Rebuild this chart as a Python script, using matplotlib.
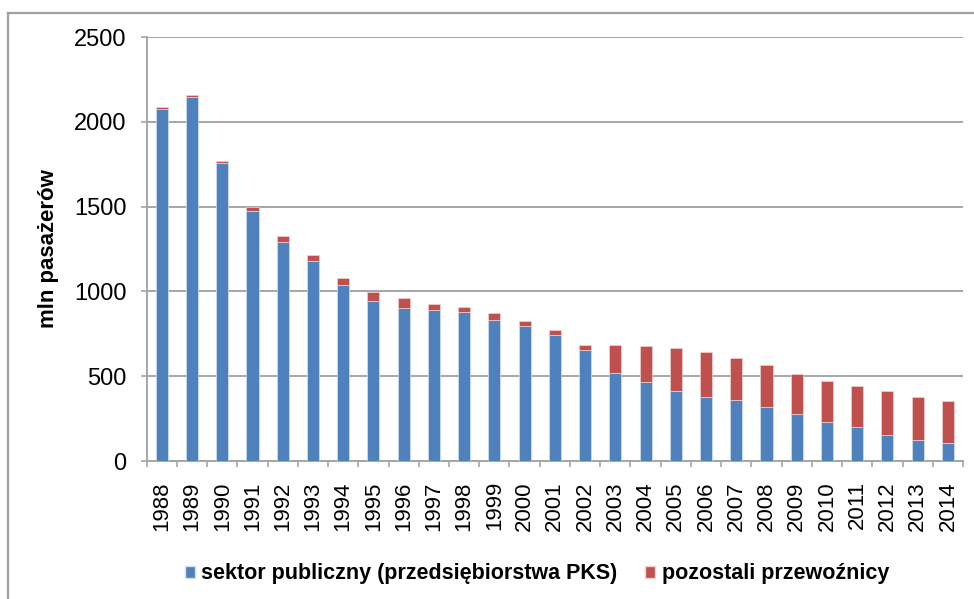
import numpy as np
import matplotlib
matplotlib.use('Agg')
import matplotlib.pyplot as plt
from matplotlib.patches import Patch
from matplotlib.lines import Line2D

plt.rcParams['font.family'] = ['Liberation Sans', 'DejaVu Sans']

# data (mln passengers)
years = [str(y) for y in range(1988, 2015)]
publiczny = [2075, 2145, 1760, 1475, 1293, 1180, 1040, 945, 905, 893,
             880, 833, 795, 740, 655, 520, 468, 412, 380, 358,
             318, 277, 232, 200, 151, 125, 104]
razem = [2090, 2160, 1770, 1495, 1325, 1215, 1080, 995, 960, 928,
         908, 870, 825, 770, 685, 683, 680, 665, 640, 605,
         565, 515, 473, 443, 412, 380, 351]
pozostali = [t - p for t, p in zip(razem, publiczny)]

blue = '#4F81BD'
red = '#C0504D'
grid_c = '#A6A6A6'

fig = plt.figure(figsize=(9.74, 5.99), dpi=100)
ax = fig.add_axes([146.7 / 974, 1 - 461 / 599, (963 - 146.7) / 974, (461 - 37) / 599])

x = np.arange(len(years))
ax.bar(x, publiczny, width=0.4, color=blue, edgecolor='#D6E0EE', linewidth=0.5, zorder=3)
ax.bar(x, pozostali, bottom=publiczny, width=0.4, color=red, edgecolor='#EFD3D2', linewidth=0.5, zorder=3)

ax.set_xlim(-0.5, len(years) - 0.5)
ax.set_ylim(0, 2500)
ax.set_yticks(range(0, 2501, 500))
ax.yaxis.grid(True, color=grid_c, linewidth=1.4, zorder=0)

# category labels at centres, tick marks between categories
ax.set_xticks(x)
ax.set_xticklabels(years, rotation=90, fontsize=16)
ax.tick_params(axis='x', which='major', length=0, pad=14.5)
ax.set_xticks(np.arange(-0.5, len(years)), minor=True)
ax.tick_params(axis='x', which='minor', length=4.5, width=1.2, color=grid_c)
ax.tick_params(axis='y', length=4.5, width=1.2, color=grid_c, labelsize=17, pad=10)

for s in ['top', 'right']:
    ax.spines[s].set_visible(False)
for s in ['left', 'bottom']:
    ax.spines[s].set_color(grid_c)
    ax.spines[s].set_linewidth(1.4)

ax.set_ylabel('mln pasażerów', fontsize=16, fontweight='bold', labelpad=11)

handles = [Patch(facecolor=blue, edgecolor='#D6E0EE'), Patch(facecolor=red, edgecolor='#EFD3D2')]
fig.legend(handles, ['sektor publiczny (przedsiębiorstwa PKS)', 'pozostali przewoźnicy'],
           loc='center', bbox_to_anchor=(537 / 974, 1 - 574 / 599), ncol=2, frameon=False,
           prop={'size': 15.5, 'weight': 'bold'}, handlelength=0.45, handleheight=0.45,
           handletextpad=0.3, columnspacing=1.3)

# outer chart frame (cropped on right and bottom)
fig.add_artist(Line2D([8 / 974, 8 / 974], [0, 1 - 13 / 599], transform=fig.transFigure,
                      color='#A0A0A0', linewidth=1.6))
fig.add_artist(Line2D([8 / 974, 1], [1 - 13 / 599, 1 - 13 / 599], transform=fig.transFigure,
                      color='#A0A0A0', linewidth=1.6))

fig.savefig('out.png', dpi=100)
